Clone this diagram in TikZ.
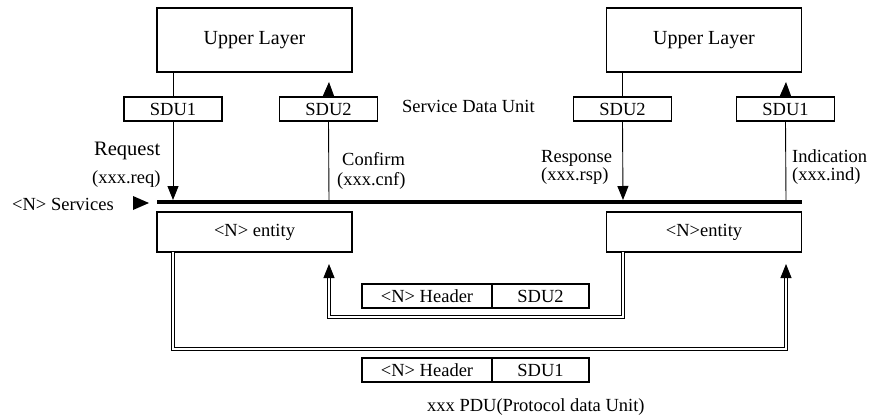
\documentclass[tikz,border=0pt]{standalone}
\usepackage{fontspec}
\setmainfont{Liberation Serif}
\usetikzlibrary{arrows.meta,calc}
\begin{document}
\begin{tikzpicture}[x=1pt,y=-1pt,
  every node/.style={font=\fontsize{18.5}{22}\selectfont, inner sep=0pt},
  bigbox/.style={draw, line width=1.1pt, minimum width=195pt, minimum height=64pt, font=\fontsize{20}{24}\selectfont},
  entbox/.style={draw, line width=1.1pt, minimum width=195pt, minimum height=40pt},
  sdubox/.style={draw, line width=1.1pt, minimum width=98pt, minimum height=24pt},
  hdrbox/.style={draw, line width=1.1pt, minimum width=130pt, minimum height=24pt},
  pdubox/.style={draw, line width=1.1pt, minimum width=97pt, minimum height=24pt},
  conn/.style={line width=0.9pt},
  arr/.style={line width=0.9pt, -{Triangle[length=14pt,width=11pt]}},
  dbl/.style={double, double distance=1.3pt, line width=0.9pt},
  lbl/.style={anchor=base west},
]
\useasboundingbox (0,0) rectangle (873,420);

% upper layers
\node[bigbox] (ulL) at (254.5,40) {Upper Layer};
\node[bigbox] (ulR) at (704,40) {Upper Layer};

% SDU boxes
\node[sdubox] (sduLa) at (173,109) {SDU1};
\node[sdubox] (sduLb) at (328.5,109) {SDU2};
\node[sdubox] (sduRa) at (622.5,109) {SDU2};
\node[sdubox] (sduRb) at (785.5,109) {SDU1};

\node[lbl] (sdutxt) at (402,113) {Service Data Unit};

% bus
\coordinate (busL) at (157,202);
\coordinate (busR) at (802,202);
\draw[line width=4.6pt] (busL) -- (busR);
\fill (133,196) -- (149,203) -- (133,210) -- cycle;
\node[lbl] (srv) at (12,210.5) {<N> Services};

% coordinates on the bus
\coordinate (b1) at (173,200);
\coordinate (b2) at (329,200);
\coordinate (b3) at (623,200);
\coordinate (b4) at (786,200);

% left side connectors
\draw[conn] (ulL.south -| sduLa) -- (sduLa.north);
\draw[arr] (sduLa.south) -- (b1);
\coordinate (t2) at (329,82);
\draw[arr] (sduLb.north) -- (t2);
\draw[conn] (b2) -- (sduLb.south);

% right side connectors
\draw[conn] (ulR.south -| sduRa) -- (sduRa.north);
\draw[arr] (sduRa.south) -- (b3);
\coordinate (t4) at (786,82);
\draw[arr] (sduRb.north) -- (t4);
\draw[conn] (b4) -- (sduRb.south);

% labels
\node[lbl,font=\fontsize{20.5}{24}\selectfont] (req) at (94,155) {Request};
\node[lbl] (reqx) at (92,183) {(xxx.req)};
\node[lbl] (cnf) at (342,165) {Confirm};
\node[lbl] (cnfx) at (337,185) {(xxx.cnf)};
\node[lbl] (rsp) at (541,162) {Response};
\node[lbl] (rspx) at (541,180) {(xxx.rsp)};
\node[lbl] (ind) at (792,162) {Indication};
\node[lbl] (indx) at (792,180) {(xxx.ind)};

% entities
\node[entbox] (entL) at (254.5,232) {<N> entity};
\node[entbox] (entR) at (704,232) {<N>entity};

% PDU boxes
\node[hdrbox] (h2) at (427,296) {<N> Header};
\node[pdubox] (p2) at (540.5,296) {SDU2};
\node[hdrbox] (h1) at (427,370) {<N> Header};
\node[pdubox] (p1) at (540.5,370) {SDU1};

\node[lbl] (pdutxt) at (427,411) {xxx PDU(Protocol data Unit)};

% double connectors
\coordinate (sL) at (173,252);
\coordinate (c1) at (173,349);
\coordinate (c2) at (786,349);
\coordinate (e2) at (786,276);
\coordinate (tip2) at (786,264);
\draw[dbl] (sL) -- (c1) -- (c2) -- (e2);
\draw[arr] (e2) -- (tip2);

\coordinate (sR) at (623,252);
\coordinate (d1) at (623,317);
\coordinate (d2) at (329,317);
\coordinate (e1) at (329,276);
\coordinate (tip1) at (329,264);
\draw[dbl] (sR) -- (d1) -- (d2) -- (e1);
\draw[arr] (e1) -- (tip1);
\end{tikzpicture}
\end{document}
